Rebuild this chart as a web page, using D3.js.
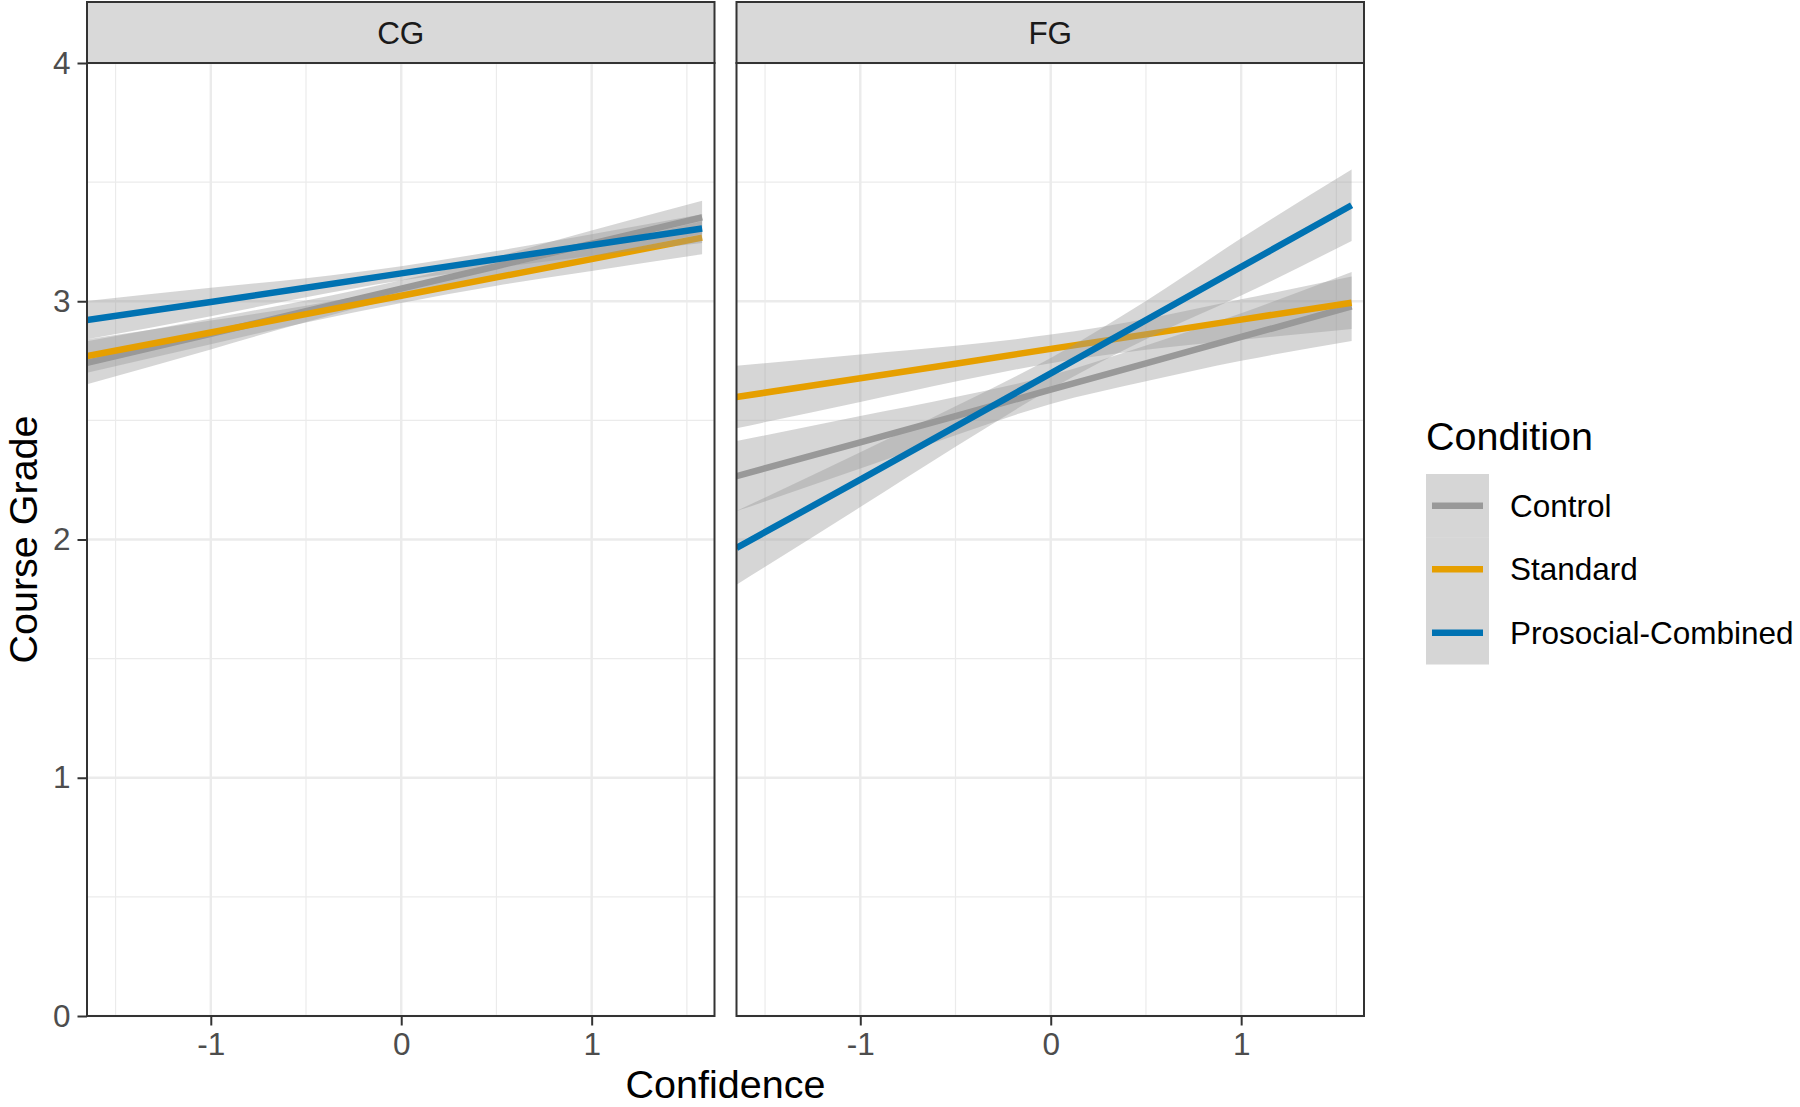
<!DOCTYPE html>
<html>
<head>
<meta charset="utf-8">
<script src="https://cdn.jsdelivr.net/npm/d3@7"></script>
<style>
  html, body { margin: 0; padding: 0; background: #ffffff; }
  svg { display: block; font-family: "Liberation Sans", Arial, sans-serif; }
</style>
</head>
<body>
<svg id="chart" width="1800" height="1107"></svg>
<script>
// ---------------- data ----------------
const panels = ["CG", "FG"];
const conditions = ["Control", "Standard", "Prosocial-Combined"];
const xTicks = [-1, 0, 1];
const yTicks = [0, 1, 2, 3, 4];
const xs = [-1.65, -1, -0.5, 0, 0.5, 1, 1.58];

// CG panel
const cgControlFit   = [2.742, 2.863, 2.958, 3.053, 3.147, 3.242, 3.352];
const cgControlLo    = [2.652, 2.798, 2.913, 3.018, 3.107, 3.187, 3.282];
const cgControlHi    = [2.832, 2.928, 3.003, 3.088, 3.187, 3.297, 3.422];
const cgStandardFit  = [2.770, 2.869, 2.946, 3.023, 3.100, 3.177, 3.267];
const cgStandardLo   = [2.700, 2.819, 2.911, 2.993, 3.065, 3.127, 3.197];
const cgStandardHi   = [2.840, 2.919, 2.981, 3.053, 3.135, 3.227, 3.337];
const cgProsocialFit = [2.921, 2.997, 3.057, 3.117, 3.176, 3.236, 3.305];
const cgProsocialLo  = [2.841, 2.937, 3.017, 3.087, 3.141, 3.191, 3.245];
const cgProsocialHi  = [3.001, 3.057, 3.097, 3.147, 3.211, 3.281, 3.365];

// FG panel
const fgControlFit   = [2.266, 2.408, 2.518, 2.629, 2.739, 2.850, 2.978];
const fgControlLo    = [2.119, 2.298, 2.438, 2.569, 2.664, 2.750, 2.833];
const fgControlHi    = [2.413, 2.518, 2.598, 2.689, 2.814, 2.950, 3.123];
const fgStandardFit  = [2.598, 2.677, 2.738, 2.800, 2.861, 2.923, 2.994];
const fgStandardLo   = [2.467, 2.577, 2.663, 2.740, 2.796, 2.838, 2.884];
const fgStandardHi   = [2.729, 2.777, 2.813, 2.860, 2.926, 3.008, 3.104];
const fgProsocialFit = [1.965, 2.251, 2.474, 2.697, 2.921, 3.144, 3.403];
const fgProsocialLo  = [1.810, 2.136, 2.389, 2.632, 2.841, 3.024, 3.253];
const fgProsocialHi  = [2.120, 2.366, 2.559, 2.762, 3.001, 3.264, 3.553];

const panelData = {
  CG: [
    { fit: cgControlFit, lo: cgControlLo, hi: cgControlHi },
    { fit: cgStandardFit, lo: cgStandardLo, hi: cgStandardHi },
    { fit: cgProsocialFit, lo: cgProsocialLo, hi: cgProsocialHi }
  ],
  FG: [
    { fit: fgControlFit, lo: fgControlLo, hi: fgControlHi },
    { fit: fgStandardFit, lo: fgStandardLo, hi: fgStandardHi },
    { fit: fgProsocialFit, lo: fgProsocialLo, hi: fgProsocialHi }
  ]
};

// ---------------- styles / layout ----------------
const colors = { "Control": "#999999", "Standard": "#E69F00", "Prosocial-Combined": "#0072B2" };
const panelLeft = [87, 736.5];
const panelWidth = 627.5;
const panelTop = 63;
const panelBottom = 1016;
const stripTop = 2;
const smallFont = 31.5;
const titleFont = 39.5;

const svg = d3.select("#chart");

const y = d3.scaleLinear().domain([0, 4]).range([panelBottom, panelTop]);

panels.forEach((p, pi) => {
  const x0 = panelLeft[pi];
  const x = d3.scaleLinear().domain([-1.65, 1.645]).range([x0, x0 + panelWidth]);
  const g = svg.append("g");

  // clip
  const clipId = "clip" + pi;
  svg.append("clipPath").attr("id", clipId)
    .append("rect").attr("x", x0).attr("y", panelTop).attr("width", panelWidth).attr("height", panelBottom - panelTop);

  // minor grid
  [-1.5, -0.5, 0.5, 1.5].forEach(v => {
    g.append("line").attr("x1", x(v)).attr("x2", x(v)).attr("y1", panelTop).attr("y2", panelBottom)
      .attr("stroke", "#ebebeb").attr("stroke-width", 1.2);
  });
  [0.5, 1.5, 2.5, 3.5].forEach(v => {
    g.append("line").attr("x1", x0).attr("x2", x0 + panelWidth).attr("y1", y(v)).attr("y2", y(v))
      .attr("stroke", "#ebebeb").attr("stroke-width", 1.2);
  });
  // major grid
  xTicks.forEach(v => {
    g.append("line").attr("x1", x(v)).attr("x2", x(v)).attr("y1", panelTop).attr("y2", panelBottom)
      .attr("stroke", "#ebebeb").attr("stroke-width", 2.4);
  });
  yTicks.forEach(v => {
    g.append("line").attr("x1", x0).attr("x2", x0 + panelWidth).attr("y1", y(v)).attr("y2", y(v))
      .attr("stroke", "#ebebeb").attr("stroke-width", 2.4);
  });

  // smooths: ribbon then line, per group
  const dg = g.append("g").attr("clip-path", `url(#${clipId})`);
  const area = d3.area()
    .x(d => x(d.x)).y0(d => y(d.lo)).y1(d => y(d.hi))
    .curve(d3.curveMonotoneX);
  const line = d3.line().x(d => x(d.x)).y(d => y(d.v));
  conditions.forEach((c, ci) => {
    const s = panelData[p][ci];
    const pts = xs.map((xv, i) => ({ x: xv, lo: s.lo[i], hi: s.hi[i], v: s.fit[i] }));
    dg.append("path").attr("d", area(pts)).attr("fill", "#999999").attr("fill-opacity", 0.4);
    dg.append("path").attr("d", line(pts)).attr("fill", "none")
      .attr("stroke", colors[c]).attr("stroke-width", 6.5);
  });

  // panel border
  g.append("rect").attr("x", x0).attr("y", panelTop).attr("width", panelWidth).attr("height", panelBottom - panelTop)
    .attr("fill", "none").attr("stroke", "#333333").attr("stroke-width", 2);

  // strip
  g.append("rect").attr("x", x0).attr("y", stripTop).attr("width", panelWidth).attr("height", panelTop - stripTop)
    .attr("fill", "#d9d9d9").attr("stroke", "#333333").attr("stroke-width", 2);
  g.append("text").attr("x", x0 + panelWidth / 2).attr("y", (stripTop + panelTop) / 2)
    .attr("dy", "0.35em").attr("text-anchor", "middle")
    .attr("font-size", smallFont).attr("fill", "#1a1a1a").text(p);

  // x axis
  const xa = d3.axisBottom(x).tickValues(xTicks).tickSize(9.5).tickPadding(7).tickFormat(d3.format("d"));
  const xg = g.append("g").attr("transform", `translate(0,${panelBottom})`).call(xa);
  xg.select(".domain").remove();
  xg.selectAll(".tick line").attr("stroke", "#333333").attr("stroke-width", 2);
  xg.selectAll(".tick text").attr("fill", "#4d4d4d").attr("font-size", smallFont)
    .attr("font-family", "Liberation Sans, Arial, sans-serif")
    .text(d => d < 0 ? "-" + Math.abs(d) : String(d));

  if (pi === 0) {
    const ya = d3.axisLeft(y).tickValues(yTicks).tickSize(9.5).tickPadding(7).tickFormat(d3.format("d"));
    const yg = g.append("g").attr("transform", `translate(${x0},0)`).call(ya);
    yg.select(".domain").remove();
    yg.selectAll(".tick line").attr("stroke", "#333333").attr("stroke-width", 2);
    yg.selectAll(".tick text").attr("fill", "#4d4d4d").attr("font-size", smallFont)
      .attr("font-family", "Liberation Sans, Arial, sans-serif");
  }
});

// axis titles
svg.append("text").attr("x", (panelLeft[0] + panelLeft[1] + panelWidth) / 2).attr("y", 1098)
  .attr("text-anchor", "middle").attr("font-size", titleFont).attr("fill", "#000").text("Confidence");
svg.append("text").attr("transform", `translate(37,${(panelTop + panelBottom) / 2}) rotate(-90)`)
  .attr("text-anchor", "middle").attr("font-size", titleFont).attr("fill", "#000").text("Course Grade");

// legend
const lg = svg.append("g");
const legX = 1426, keyTop = 474, keyH = 63.5, keyW = 63;
lg.append("text").attr("x", legX).attr("y", 450).attr("font-size", titleFont).attr("fill", "#000").text("Condition");
conditions.forEach((c, i) => {
  const ky = keyTop + i * keyH;
  lg.append("rect").attr("x", legX).attr("y", ky).attr("width", keyW).attr("height", keyH)
    .attr("fill", "#999999").attr("fill-opacity", 0.4);
  lg.append("line").attr("x1", legX + 6).attr("x2", legX + keyW - 6)
    .attr("y1", ky + keyH / 2).attr("y2", ky + keyH / 2)
    .attr("stroke", colors[c]).attr("stroke-width", 6.5);
  lg.append("text").attr("x", 1510).attr("y", ky + keyH / 2).attr("dy", "0.35em")
    .attr("font-size", smallFont).attr("fill", "#000").text(c);
});
</script>
</body>
</html>
